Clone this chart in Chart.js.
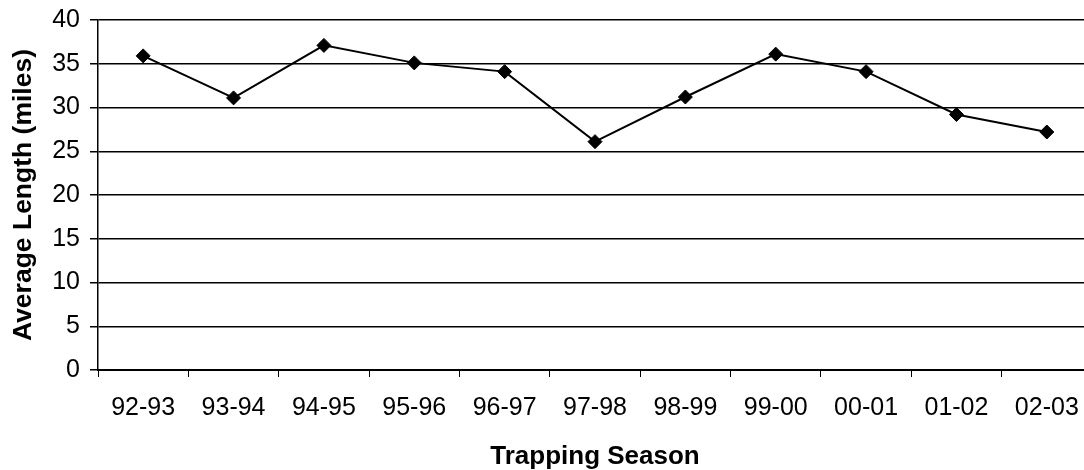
<!DOCTYPE html>
<html>
<head>
<meta charset="utf-8">
<script src="https://cdn.jsdelivr.net/npm/chart.js@4/dist/chart.umd.min.js"></script>
<style>
  html, body { margin: 0; padding: 0; background: #fff; overflow: hidden; }
  #wrap { width: 1092px; height: 470px; }
</style>
</head>
<body>
<div id="wrap"><canvas id="myChart" width="1092" height="470"></canvas></div>
<script>
// trapping seasons and average trapline length
const seasons = ['92-93', '93-94', '94-95', '95-96', '96-97', '97-98', '98-99', '99-00', '00-01', '01-02', '02-03'];
const avgLength = [35.9, 31.1, 37.1, 35.1, 34.1, 26.1, 31.2, 36.1, 34.1, 29.2, 27.2];
const yTicks = [0, 5, 10, 15, 20, 25, 30, 35, 40];

const fontFamily = '"Liberation Sans", Arial, sans-serif';

var ctx = document.getElementById('myChart').getContext('2d');

new Chart(ctx, {
    type: 'line',
    data: {
        labels: seasons,
        datasets: [{
            label: 'Average Length',
            data: avgLength,
            borderColor: '#000',
            backgroundColor: '#000',
            borderWidth: 2,
            pointStyle: 'rectRot',
            pointRadius: 7,
            pointBorderWidth: 1,
            pointBackgroundColor: '#000',
            pointBorderColor: '#000',
            fill: false,
            tension: 0
        }]
    },
    options: {
        responsive: false,
        animation: false,
        layout: { autoPadding: false, padding: { top: 20, left: 0, right: 0, bottom: 0 } },
        plugins: {
            legend: { display: false },
            tooltip: { enabled: false }
        },
        scales: {
            x: {
                offset: true,
                grid: {
                    offset: true,
                    drawOnChartArea: false,
                    drawTicks: true,
                    tickLength: 7,
                    color: '#000',
                    lineWidth: 1
                },
                border: { color: '#000', width: 2 },
                ticks: {
                    color: '#000',
                    padding: 16,
                    maxRotation: 0,
                    autoSkip: false,
                    font: { family: fontFamily, size: 25 }
                },
                title: {
                    display: true,
                    text: 'Trapping Season',
                    color: '#000',
                    padding: { top: 0, bottom: 0 },
                    font: { family: fontFamily, size: 26, weight: 'bold', lineHeight: 1 }
                },
                afterFit: scale => {
                    scale.height = 100;
                    scale.paddingLeft = 0;
                    scale.paddingRight = 0;
                }
            },
            y: {
                min: 0,
                max: 40,
                afterBuildTicks: scale => { scale.ticks = yTicks.map(v => ({ value: v })); },
                grid: {
                    color: '#000',
                    lineWidth: 1.5,
                    tickLength: 8
                },
                border: { color: '#000', width: 1.5 },
                ticks: {
                    color: '#000',
                    padding: 10,
                    font: { family: fontFamily, size: 25 }
                },
                title: {
                    display: true,
                    text: 'Average Length (miles)',
                    color: '#000',
                    padding: { top: 10, bottom: 0 },
                    font: { family: fontFamily, size: 26.5, weight: 'bold', lineHeight: 1 }
                },
                afterFit: scale => {
                    scale.width = 98;
                    scale.paddingTop = 0;
                    scale.paddingBottom = 0;
                }
            }
        }
    }
});
</script>
</body>
</html>
